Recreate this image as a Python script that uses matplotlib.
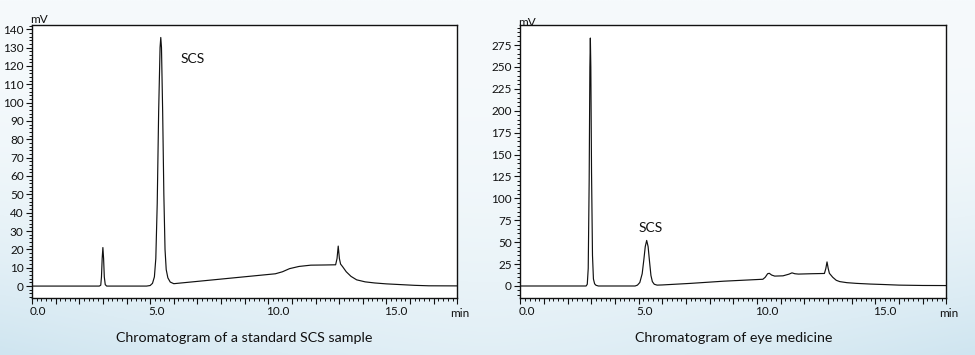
import numpy as np
import matplotlib
matplotlib.use("Agg")
import matplotlib.pyplot as plt
from matplotlib.ticker import MultipleLocator, FixedLocator
from matplotlib.transforms import ScaledTranslation

plt.rcParams['font.family'] = ['Lato', 'DejaVu Sans']

# ---- data: standard SCS sample (time in min, signal in mV) ----
std_time = [0.0, 2.85, 2.91, 2.94, 2.97, 3.00, 3.03, 3.06, 3.10, 3.16,
            4.85, 5.00, 5.10, 5.18, 5.24, 5.30, 5.36, 5.42, 5.45, 5.48, 5.53,
            5.58, 5.63, 5.68, 5.75, 5.85, 6.00,
            10.30, 10.60, 10.90, 11.30, 11.80, 12.40, 12.85, 12.91, 12.96,
            13.01, 13.06, 13.15, 13.30, 13.50, 13.74, 14.10, 14.50, 15.00,
            15.60, 16.20, 16.80, 18.00]
std_mv = [0.0, 0.0, 0.5, 5.0, 15.0, 21.0, 15.0, 5.0, 0.8, 0.0,
          0.0, 0.3, 1.5, 5.0, 15.0, 45.0, 95.0, 130.0, 135.5, 130.0, 95.0,
          50.0, 20.0, 9.0, 4.5, 2.2, 1.3,
          6.7, 7.8, 9.5, 10.7, 11.4, 11.5, 11.6, 15.0, 21.8,
          15.0, 12.0, 10.5, 7.8, 5.3, 3.4, 2.3, 1.7, 1.2,
          0.8, 0.4, 0.15, 0.1]

# ---- data: eye medicine sample ----
eye_time = [0.0, 2.78, 2.83, 2.87, 2.91, 2.94, 2.96, 2.98, 3.01, 3.05,
            3.09, 3.14, 3.20, 3.30,
            4.85, 4.95, 5.05, 5.15, 5.22, 5.28, 5.34, 5.40, 5.46, 5.52,
            5.58, 5.66, 5.78, 6.00, 7.20, 8.60, 10.25, 10.35, 10.45, 10.52,
            10.62, 10.75, 11.10, 11.35, 11.48, 11.60, 11.75, 12.30, 12.85,
            12.91, 12.96, 13.01, 13.06, 13.20, 13.35, 13.50, 13.80, 14.20,
            14.80, 15.34, 16.00, 17.00, 18.00]
eye_mv = [0.0, 0.0, 2.0, 20.0, 120.0, 250.0, 283.0, 250.0, 130.0, 35.0,
          8.0, 2.5, 0.8, 0.0,
          0.0, 1.0, 4.0, 14.0, 30.0, 45.0, 52.0, 45.0, 28.0, 12.0,
          5.0, 2.0, 1.0, 1.2, 3.0, 5.5, 7.7, 10.0, 14.0, 14.5,
          12.5, 11.3, 11.6, 13.5, 15.0, 14.0, 13.6, 14.0, 14.3,
          20.0, 27.5, 20.0, 14.5, 10.0, 6.5, 5.0, 3.8, 3.0,
          2.2, 1.7, 1.0, 0.6, 0.5]

x_tick_vals = [0.0, 5.0, 10.0, 15.0]
x_tick_labels = ["0.0", "5.0", "10.0", "15.0"]
std_y_ticks = [0, 10, 20, 30, 40, 50, 60, 70, 80, 90, 100, 110, 120, 130, 140]
eye_y_ticks = [0, 25, 50, 75, 100, 125, 150, 175, 200, 225, 250, 275]

titles = ["Chromatogram of a standard SCS sample", "Chromatogram of eye medicine"]
peak_label = "SCS"
std_label_pos = (6.30, 124.0)
eye_label_pos = (4.98, 66.0)

W, H = 975, 355
fig = plt.figure(figsize=(W / 100, H / 100), dpi=100)

# background gradient
bg = fig.add_axes([0, 0, 1, 1], zorder=-10)
gy = np.linspace(0, 1, 200)[:, None]
gx = np.linspace(0, 1, 400)[None, :]
blend = (gy ** 2.2) * (0.55 + 0.45 * np.abs(2 * gx - 1) ** 1.5)
top = np.array([0xf6, 0xfa, 0xfc]) / 255.0
bot = np.array([0xcf, 0xe5, 0xf0]) / 255.0
img = top[None, None, :] * (1 - blend[..., None]) + bot[None, None, :] * blend[..., None]
bg.imshow(img, aspect='auto', extent=[0, 1, 1, 0])
bg.set_axis_off()

ink = '#111111'
TICK_FS = 8.5

def make_panel(rect, t, v, ylim, yticks, yminor, title, lab_pos, mv_dy):
    ax = fig.add_axes(rect)
    ax.plot(t, v, color=ink, lw=0.85, solid_joinstyle='round')
    ax.set_xlim(0, 18)
    ax.set_ylim(*ylim)
    ax.xaxis.set_minor_locator(MultipleLocator(0.2))
    ax.yaxis.set_major_locator(FixedLocator(yticks))
    ax.yaxis.set_minor_locator(MultipleLocator(yminor))
    labels = []
    for k in range(0, 19):
        if float(k) in x_tick_vals:
            labels.append(x_tick_labels[x_tick_vals.index(float(k))])
        else:
            labels.append("")
    ax.set_xticks(range(0, 19))
    ax.set_xticklabels(labels)
    ax.tick_params(axis='both', which='major', length=4, width=0.8,
                   labelsize=TICK_FS, color=ink, labelcolor=ink, pad=2)
    ax.tick_params(axis='both', which='minor', length=2, width=0.7, color=ink)
    off = ScaledTranslation(-2 / 100, 0, fig.dpi_scale_trans)
    for lab in ax.get_xticklabels():
        lab.set_horizontalalignment('left')
        lab.set_transform(lab.get_transform() + off)
    for s in ax.spines.values():
        s.set_linewidth(1.0)
        s.set_color(ink)
    ax.text(-0.005, 1.0 + mv_dy, "mV", transform=ax.transAxes, fontsize=TICK_FS,
            ha='left', va='bottom', color=ink)
    ax.text(1.005, -0.037, "min", transform=ax.transAxes, fontsize=TICK_FS,
            ha='center', va='top', color=ink)
    ax.text(lab_pos[0], lab_pos[1], peak_label, fontsize=10, ha='left',
            va='center', color=ink)
    ax.text(0.5, -0.125, title, transform=ax.transAxes, fontsize=10.3,
            ha='center', va='top', color=ink)
    return ax

ax1 = make_panel([32 / W, 1 - 298 / H, (457.3 - 32) / W, (298 - 25) / H],
                 std_time, std_mv, (-6.5, 142.3), std_y_ticks, 2,
                 titles[0], std_label_pos, 0.0)
ax2 = make_panel([520.3 / W, 1 - 298 / H, (946.3 - 520.3) / W, (298 - 25) / H],
                 eye_time, eye_mv, (-13.7, 297.9), eye_y_ticks, 5,
                 titles[1], eye_label_pos, -0.01)

fig.savefig("out.png", dpi=100)
